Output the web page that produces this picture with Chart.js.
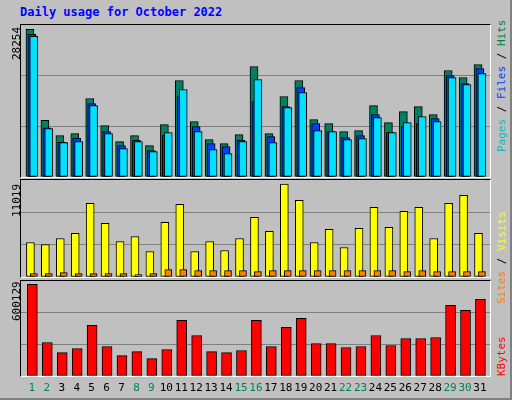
<!DOCTYPE html>
<html><head><meta charset="utf-8">
<script src="https://cdn.jsdelivr.net/npm/chart.js@4"></script>
<style>
html,body{margin:0;padding:0;background:#fff}
#wrap{position:absolute;left:0;top:0;width:510px;height:398px;background:#c0c0c0;border-right:2px solid #808080;border-bottom:2px solid #808080;font-family:"DejaVu Sans Mono",monospace;overflow:hidden}
.panel{position:absolute;left:20px;width:471px;border-top:1px solid #000;border-left:1px solid #000;border-right:1px solid #fff;border-bottom:1px solid #fff;box-sizing:border-box}
.panel canvas{position:absolute;left:0;top:0}
.title{position:absolute;left:20px;top:5px;color:#0000ff;font-weight:bold;font-size:12px}
.vl{position:absolute;font-size:11px;color:#000;transform-origin:0 0;transform:rotate(-90deg);white-space:nowrap;line-height:13px}
.day{position:absolute;top:381px;font-size:11px;transform:translateX(-50%)}
</style></head><body>
<div id="wrap">
<div class="title">Daily usage for October 2022</div>
<div class="panel" id="p1" style="top:24px;height:154px"><canvas id="c1"></canvas></div>
<div class="panel" id="p2" style="top:179px;height:99px"><canvas id="c2"></canvas></div>
<div class="panel" id="p3" style="top:280px;height:97px"><canvas id="c3"></canvas></div>
<div class="vl" style="left:10px;top:60px">28254</div>
<div class="vl" style="left:10px;top:217px">11019</div>
<div class="vl" style="left:10px;top:321px">600129</div>
<div class="vl" style="left:495px;top:152px"><span style="color:#00c0c0">Pages</span> / <span style="color:#0040ff">Files</span> / <span style="color:#008040">Hits</span></div>
<div class="vl" style="left:495px;top:304px"><span style="color:#ff8000">Sites</span> / <span style="color:#ffff00">Visits</span></div>
<div class="vl" style="left:495px;top:376px"><span style="color:#ff0000">KBytes</span></div>
</div>
<script>
const days = Array.from({length:31},(_,i)=>i+1);
const weekend = [1,2,8,9,15,16,22,23,29,30];
const hits  = [28254,10866,7926,8310,15021,9844,6776,7926,6008,10036,18473,10611,7159,6392,8118,21158,8310,15405,18473,10994,10227,8693,8885,13679,10419,12528,13487,11953,20390,19048,21541];
const files = [27294,9396,6648,7415,14062,8693,6008,7031,5050,7990,15405,9652,6392,5817,7031,14446,7734,13487,17131,10227,8693,7543,7926,11953,8501,9652,10227,11186,19432,17898,20774];
const pages = [26910,9268,6584,6776,13679,8310,5433,6776,4858,8501,16747,8693,5241,4474,6776,18665,6584,13295,16172,8885,8693,7159,7351,11378,8501,10419,11570,10611,19048,17706,19815];
const visits= [4097,3859,4575,5171,8752,6365,4217,4813,3023,6484,8632,3023,4217,3143,4575,7081,5410,11019,9110,4097,5649,3501,5768,8274,5887,7797,8274,4575,8752,9706,5171];
const sites = [398,398,517,398,398,398,398,278,398,875,875,756,756,756,756,636,756,756,756,756,756,756,756,756,756,636,756,636,636,636,636];
const kbytes= [600129,219000,153300,179580,330690,192720,133590,159870,113880,173010,363540,264990,159870,153300,166440,363540,192720,317550,376680,212430,212430,186150,192720,264990,199290,245280,245280,251850,462090,429240,501510];

function ds(vals,color,off,w){
  return {data:vals.map((v,i)=>({x:days[i]+off,y:v})),backgroundColor:color,borderColor:'#000',borderWidth:1,barThickness:w,borderSkipped:false};
}
function mk(id,w,h,sets,ymax){
  const c=document.getElementById(id);c.width=w;c.height=h;c.style.width=w+'px';c.style.height=h+'px';
  return new Chart(c,{type:'bar',data:{datasets:sets},options:{
    responsive:false,animation:false,layout:{padding:0},
    plugins:{legend:{display:false},tooltip:{enabled:false}},
    datasets:{bar:{grouped:false}},
    scales:{
      x:{type:'linear',min:0.27,max:31.67,offset:false,display:false},
      y:{min:0,max:ymax,ticks:{display:false,stepSize:ymax/3},border:{display:false},
         grid:{drawTicks:false,color:ctx=>(ctx.tick.value>0&&ctx.tick.value<ymax*0.99)?'#808080':'rgba(0,0,0,0)'}}
    }}});
}
const mh=Math.max(...hits), mv=Math.max(...visits), mk_=Math.max(...kbytes);
mk('c1',469,152,[ds(pages,'#00e0ff',0.13,8),ds(files,'#0040ff',0,8),ds(hits,'#008060',-0.13,8)],mh*1.03);
mk('c2',469,97,[ds(sites,'#ff8000',0.13,7),ds(visits,'#ffff00',-0.1,8)],mv*1.045);
const ch3=mk('c3',469,95,[ds(kbytes,'#ff0000',0.03,10)],mk_*1.035);
const wrap=document.getElementById('wrap');
days.forEach(d=>{
  const s=document.createElement('div');s.className='day';s.textContent=d;
  s.style.left=(21+ch3.scales.x.getPixelForValue(d))+'px';
  s.style.color=weekend.includes(d)?'#008060':'#000';
  wrap.appendChild(s);
});
</script>
</body></html>
